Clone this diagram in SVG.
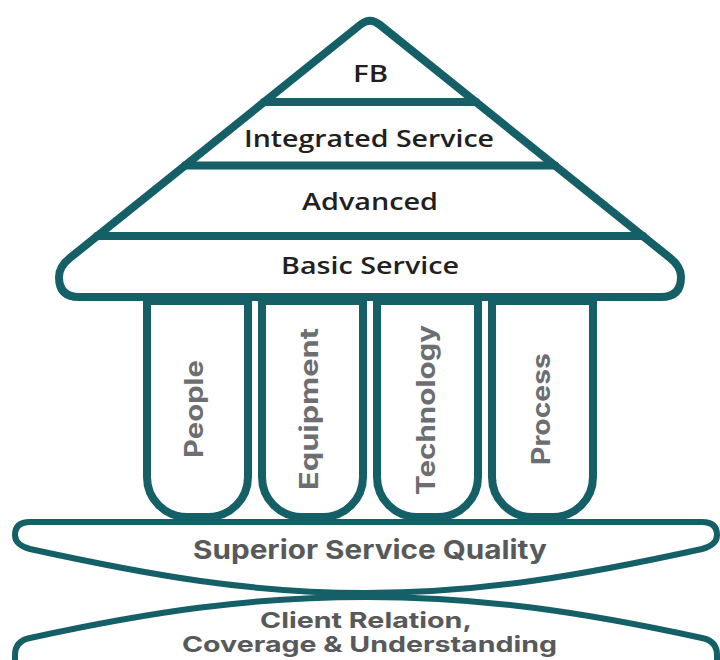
<svg xmlns="http://www.w3.org/2000/svg" width="720" height="660" viewBox="0 0 720 660">
  <style>
    .ln { fill: none; stroke: #155f66; stroke-linejoin: round; stroke-linecap: round; }
    .shape { fill: #ffffff; stroke: #155f66; stroke-linejoin: round; stroke-linecap: round; }
    .lvl { font-family: "Open Sans", "Liberation Sans", sans-serif; font-weight: 600; font-size: 24px; fill: #231f20; text-anchor: middle; }
    .pil { font-family: Inter, "Liberation Sans", sans-serif; font-weight: 700; font-size: 25px; fill: #6d6e71; text-anchor: middle; }
    .base { font-family: Inter, "Liberation Sans", sans-serif; font-weight: 700; fill: #58595b; text-anchor: middle; }
  </style>
  <rect width="720" height="660" fill="#ffffff"/>

  <g id="foundation-client">
    <path class="shape" stroke-width="6" d="M15,668 L15,655 Q15,641 30,638 C149,612 249,597 366,597 C483,597 583,612 702,638 Q717,641 717,655 L717,668 Z"/>
    <text class="base" font-size="22" x="366" y="628" textLength="212" lengthAdjust="spacingAndGlyphs">Client Relation,</text>
    <text class="base" font-size="22" x="369.5" y="652" textLength="375" lengthAdjust="spacingAndGlyphs">Coverage &amp; Understanding</text>
  </g>

  <g id="foundation-quality">
    <path class="shape" stroke-width="6" d="M30,522 L702,522 Q717,522 717,535 Q717,545 702,549 C583,575 483,593 366,593 C249,593 149,575 30,549 Q15,545 15,535 Q15,522 30,522 Z"/>
    <text class="base" font-size="26" x="370" y="559" textLength="354" lengthAdjust="spacingAndGlyphs">Superior Service Quality</text>
  </g>

  <g id="pillar-people">
    <path class="shape" stroke-width="8" d="M147,301 H248 V477 A40,40 0 0 1 208,517 H187 A40,40 0 0 1 147,477 Z"/>
    <text class="pil" transform="translate(203,409) rotate(-90)" textLength="98" lengthAdjust="spacingAndGlyphs">People</text>
  </g>
  <g id="pillar-equipment">
    <path class="shape" stroke-width="8" d="M262,301 H363 V477 A40,40 0 0 1 323,517 H302 A40,40 0 0 1 262,477 Z"/>
    <text class="pil" transform="translate(318,409) rotate(-90)" textLength="162" lengthAdjust="spacingAndGlyphs">Equipment</text>
  </g>
  <g id="pillar-technology">
    <path class="shape" stroke-width="8" d="M377,301 H478 V477 A40,40 0 0 1 438,517 H417 A40,40 0 0 1 377,477 Z"/>
    <text class="pil" transform="translate(435,410) rotate(-90)" textLength="170" lengthAdjust="spacingAndGlyphs">Technology</text>
  </g>
  <g id="pillar-process">
    <path class="shape" stroke-width="8" d="M492,301 H593 V477 A40,40 0 0 1 553,517 H532 A40,40 0 0 1 492,477 Z"/>
    <text class="pil" transform="translate(550,409) rotate(-90)" textLength="112" lengthAdjust="spacingAndGlyphs">Process</text>
  </g>

  <g id="roof">
    <path class="shape" stroke-width="8" d="M70,257.9 L360.6,24.5 Q370,17 379.4,24.5 L670,257.9 Q681,266.6 681,277 Q681,297 661,297 L79,297 Q59,297 59,277 Q59,266.6 70,257.9 Z"/>
  </g>

  <g id="connectors">
    <line class="ln" stroke-width="8" x1="264" y1="102" x2="476" y2="102"/>
    <line class="ln" stroke-width="8" x1="185" y1="165.5" x2="555" y2="165.5"/>
    <line class="ln" stroke-width="8" x1="97" y1="236" x2="643" y2="236"/>
  </g>

  <g id="level-fb">
    <text class="lvl" x="370.5" y="82" textLength="35" lengthAdjust="spacingAndGlyphs">FB</text>
  </g>
  <g id="level-integrated">
    <text class="lvl" x="369" y="146.5" textLength="250" lengthAdjust="spacingAndGlyphs">Integrated Service</text>
  </g>
  <g id="level-advanced">
    <text class="lvl" x="370" y="210" textLength="136" lengthAdjust="spacingAndGlyphs">Advanced</text>
  </g>
  <g id="level-basic">
    <text class="lvl" x="370" y="274" textLength="178" lengthAdjust="spacingAndGlyphs">Basic Service</text>
  </g>
</svg>
